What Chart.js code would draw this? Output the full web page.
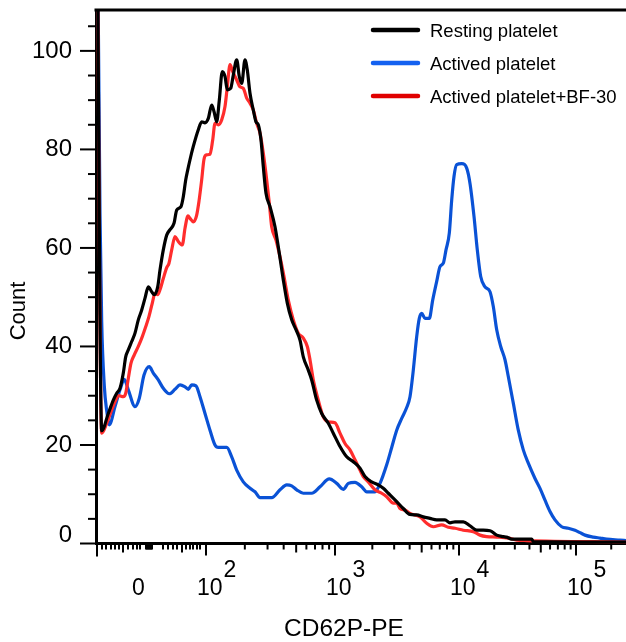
<!DOCTYPE html>
<html>
<head>
<meta charset="utf-8">
<title>CD62P-PE histogram</title>
<script src="https://cdn.jsdelivr.net/npm/chart.js@4.4.1/dist/chart.umd.min.js"></script>
<style>
  html, body { margin: 0; padding: 0; background: #fff; }
  #wrap { position: relative; width: 626px; height: 642px; }
</style>
</head>
<body>
<div id="wrap"><canvas id="chart"></canvas></div>
<script>
/* ─── Data (x = display channel on the biexponential axis, y = count) ───── */
const restingX = [0.5, 5.7, 12.3, 17.3, 20.7, 24, 27.3, 29.7, 32.3, 35.7, 39, 42.3, 45.7, 49, 52.3, 55.7,
  58.3, 61.7, 64, 67.3, 70.7, 74, 78, 80.7, 85, 87.3, 89.7, 91.7, 94, 97.3, 102.3, 105.7, 109, 112.3,
  115.7, 118, 120.7, 123.3, 126.3, 129, 131.3, 134.7, 137.3, 140.7, 143.3, 145.7, 149, 151.3, 154,
  157.3, 160, 162.3, 165, 167.3, 170, 174, 179, 183.3, 187.3, 191.3, 195.7, 200, 204, 207.3, 212.3,
  215.7, 220.7, 225.7, 232.3, 237.3, 244, 250.7, 257.3, 264, 269, 275.7, 282.3, 287.3, 292.3, 300.7,
  307.3, 314, 320.7, 327.3, 334, 340.7, 349, 354, 359, 367.3, 374, 380.7, 387.3, 394, 400.7, 407.3,
  410.7, 415.7, 435.7, 437.3, 530];
const restingY = [150, 22.9, 26.4, 29.1, 30.5, 31.5, 34.6, 37.9, 39.3, 41.0, 42.7, 45.4, 47.4, 49.8, 52.1, 51.1,
  50.5, 52.1, 55.5, 59.6, 62.6, 63.7, 65.0, 67.7, 68.4, 70.4, 73.8, 75.8, 77.9, 80.6, 84.0, 85.6, 85.4, 86.3,
  89.0, 87.7, 85.6, 90.0, 95.8, 94.8, 92.1, 92.4, 95.1, 98.2, 94.8, 93.4, 98.2, 96.1, 91.4,
  88.0, 85.6, 85.0, 81.9, 76.5, 71.1, 68.4, 64.3, 58.9, 53.5, 48.8, 45.4, 43.4, 41.3, 37.9, 35.2,
  33.2, 29.1, 26.4, 24.4, 22.4, 19.7, 17.6, 16.6, 15.3, 13.6, 12.5, 11.9, 11.2, 10.2, 8.5,
  7.1, 5.9, 5.8, 5.4, 5.1, 4.8, 4.8, 4.2, 4.4, 4.4, 3.6, 2.7, 2.7, 2.6, 1.7, 1.4,
  1.3, 0.9, 0.9, 0.4, 0.3];

const activedX = [0.5, 4, 5.7, 8.3, 10.7, 13.3, 19, 24, 28.3, 32.3, 39, 43.3, 48, 53.3, 57.3, 62.3, 67.3,
  73.3, 79, 84, 89, 92.3, 95.7, 100, 104, 109, 114, 119, 122.3, 130.7, 135.7, 140.7, 147.3, 154, 159,
  164, 175.7, 184, 190.7, 195.7, 200.7, 207.3, 215.7, 224, 233.3, 240.7, 247.3, 252.3, 259, 265.7,
  270.7, 279, 284, 290.7, 295.7, 300.7, 305.7, 310.7, 314, 317.3, 320.7, 323.3, 325.7, 329, 333.3,
  336.7, 340.7, 344, 347.3, 350, 353.3, 355.7, 358, 360.7, 365.7, 370.7, 374, 378, 381.3, 384.7, 389,
  394, 397.3, 400.7, 404.7, 409, 412.3, 417.3, 422.3, 427.3, 432.3, 439, 444, 449, 454, 459, 465.7,
  472.3, 479, 484, 489, 497.3, 504, 510.7, 524, 530];
const activedY = [150, 67, 45, 32, 27, 24.1, 27.8, 31.2, 33.3, 31.2, 27.8, 29.5, 34.2, 35.9, 34.6, 33.2, 31.5,
  30.4, 31.3, 32.2, 31.8, 31.3, 32.2, 32.0, 29.8, 26.4, 23.0, 20.0, 19.5, 19.5, 17.6, 14.9, 12.5, 11.2, 10.5,
  9.3, 9.3, 10.9, 11.9, 11.7, 10.9, 10.2, 10.2, 11.5, 13.1, 12.2, 11.0, 12.2, 12.4, 11.5,
  10.5, 10.5, 12.2, 16.0, 19.5, 23.0, 25.4, 27.6, 29.8, 35.2, 42.0, 45.7, 46.7, 45.7, 45.7,
  49.4, 53.2, 56.2, 56.9, 59.6, 63.0, 69.7, 74.5, 76.9, 77.1, 76.2, 73.1, 66.4, 59.6, 54.2, 52.1,
  51.1, 48.1, 43.4, 40.0, 37.3, 33.9, 28.5, 23.0, 19.0, 16.3, 13.2, 11.2, 8.8, 6.5, 4.8, 3.4,
  3.1, 2.7, 2.2, 1.7, 1.3, 1.1, 0.9, 0.7, 0.6];

const bf30X = [0.5, 5.7, 10.7, 15.7, 19.7, 23, 27.3, 29.7, 32.3, 35, 38.3, 42.3, 46.3, 49.7, 53, 56.3, 59,
  61.7, 64, 67.3, 70.7, 73, 75.7, 79, 82.3, 86.3, 89, 92, 94, 97.3, 100.5, 103, 105.5, 108, 110.5, 114,
  116.7, 119, 122.3, 125.7, 129, 131.3, 134, 136.7, 140.7, 144, 147.3, 150.7, 154, 157.3, 160.7, 164,
  167.3, 170.7, 173.3, 175.7, 180, 184, 188, 192.3, 197.3, 202.3, 207.3, 211.3, 214, 217.3, 222.3,
  227.3, 232.3, 239, 244, 249, 254, 259, 264, 267.3, 272.3, 279, 285.7, 290.7, 297.3, 300.7, 304, 309,
  314, 324, 330.7, 337.3, 345.7, 352.3, 359, 367.3, 377.3, 384, 390.7, 400.7, 412.3, 420.7, 430.7, 530];
const bf30Y = [150, 22.4, 24.4, 27.1, 29.1, 30.0, 29.8, 30.5, 33.5, 36.6, 38.3, 40.0, 42.0, 44.0, 46.1, 48.8, 50.8,
  50.5, 51.5, 53.8, 56.0, 56.9, 59.6, 62.3, 61.3, 60.6, 64.0, 66.5, 66.0, 65.3, 66.5, 69.5, 73.5, 78.0, 78.9, 79.0,
  81.9, 85.3, 85.0, 86.0, 88.7, 92.7, 97.2, 95.8, 94.1, 92.7, 92.4, 90.4, 89.4, 88.0, 85.3, 83.3,
  79.2, 73.8, 69.1, 64.3, 61.6, 58.2, 54.2, 49.4, 45.4, 42.7, 41.7, 40.0, 37.3, 33.2, 29.1,
  25.7, 24.7, 24.5, 22.4, 20.3, 19.0, 17.0, 14.9, 13.6, 12.5, 10.9, 10.2, 9.5, 8.2, 8.2, 7.1, 6.8,
  6.1, 5.4, 4.1, 3.4, 3.8, 3.3, 3.1, 2.7, 2.4, 1.7, 1.4, 1.3, 1.1, 0.7, 0.6, 0.3];

/* ─── Axis ticks ─────────────────────────────────────────────────────────── */
const xMax = 530;
const yMax = 108.3;
const yTickLabels = [0, 20, 40, 60, 80, 100];
// linear region round zero
const linTickPos = [1, 6, 10, 15, 19, 23, 27, 32, 37, 41, 44, 50, 51, 52, 53, 54, 55, 56,
  67, 72, 77, 81, 86, 90, 94, 97, 101, 104];
// channel positions of 10^2 .. 10^5
const decadePos = [110, 239, 363, 480];
const decadeExp = ['2', '3', '4', '5'];
const zeroLabelPos = 42.5;

const FONT = '"Liberation Sans", Arial, Helvetica, sans-serif';

function xTickList() {
  const list = linTickPos.map(v => [v, v === 1 ? 13 : (v === 27 || v === 86 ? 9 : 6)]);
  decadePos.forEach((p0, d) => {
    const next = decadePos[d + 1] ?? p0 + 117;
    const w = next - p0;
    list.push([p0, 12]);
    for (let k = 2; k <= 9; k++) {
      const v = p0 + w * Math.log10(k);
      if (v <= xMax) list.push([v, k === 5 ? 9 : 6]);
    }
  });
  return list;
}

/* ─── Plugin: ticks, labels, frame, legend ───────────────────────────────── */
const decor = {
  id: 'decor',
  afterDraw(chart) {
    const { ctx, chartArea: a, scales: { x, y } } = chart;
    ctx.save();
    ctx.strokeStyle = '#000';
    ctx.fillStyle = '#000';

    /* top frame */
    ctx.lineWidth = 3;
    ctx.beginPath();
    ctx.moveTo(a.left - 1.5, a.top);
    ctx.lineTo(a.right, a.top);
    ctx.stroke();

    /* y ticks */
    ctx.lineWidth = 2;
    for (let v = 0; v <= 105; v += 5) {
      const py = y.getPixelForValue(v);
      const len = v % 20 === 0 ? 16 : 8;
      ctx.beginPath();
      ctx.moveTo(a.left - len, py);
      ctx.lineTo(a.left, py);
      ctx.stroke();
    }

    /* x ticks */
    xTickList().forEach(([v, len]) => {
      const px = x.getPixelForValue(v);
      ctx.beginPath();
      ctx.moveTo(px, a.bottom);
      ctx.lineTo(px, a.bottom + len);
      ctx.stroke();
    });

    /* y labels */
    ctx.font = `24px ${FONT}`;
    ctx.textAlign = 'right';
    ctx.textBaseline = 'middle';
    yTickLabels.forEach(v => {
      const py = y.getPixelForValue(v) - (v === 0 ? 8 : 0);
      ctx.fillText(String(v), a.left - 24, py);
    });

    /* x labels */
    ctx.font = `23px ${FONT}`;
    ctx.textBaseline = 'alphabetic';
    ctx.textAlign = 'center';
    ctx.fillText('0', x.getPixelForValue(zeroLabelPos), 594.5);
    ctx.textAlign = 'left';
    decadePos.forEach((p, i) => {
      const px = x.getPixelForValue(p) - 9;
      ctx.fillText('10', px, 594.5);
      const w = ctx.measureText('10').width;
      ctx.fillText(decadeExp[i], px + w + 1, 577);
    });

    /* axis titles */
    ctx.font = `24.5px ${FONT}`;
    ctx.textAlign = 'center';
    ctx.fillText('CD62P-PE', 344, 635.5);
    ctx.save();
    ctx.translate(19, 311);
    ctx.rotate(-Math.PI / 2);
    ctx.font = `22px ${FONT}`;
    ctx.textBaseline = 'middle';
    ctx.fillText('Count', 0, 0);
    ctx.restore();

    /* legend */
    const rows = [
      ['Resting platelet', '#000000', 30],
      ['Actived platelet', '#1461f0', 63],
      ['Actived platelet+BF-30', '#e00000', 96]
    ];
    ctx.font = `18.5px ${FONT}`;
    ctx.textAlign = 'left';
    ctx.textBaseline = 'alphabetic';
    ctx.lineCap = 'round';
    rows.forEach(([label, color, ly]) => {
      ctx.strokeStyle = color;
      ctx.lineWidth = 4.5;
      ctx.beginPath();
      ctx.moveTo(373, ly);
      ctx.lineTo(418, ly);
      ctx.stroke();
      ctx.fillStyle = '#000';
      ctx.fillText(label, 430, ly + 6.5);
    });
    ctx.restore();
  }
};

/* ─── Chart ──────────────────────────────────────────────────────────────── */
const toPts = (xs, ys) => xs.map((v, i) => ({ x: v, y: ys[i] }));

new Chart(document.getElementById('chart'), {
  type: 'line',
  data: {
    datasets: [
      {
        label: 'Resting platelet',
        data: toPts(restingX, restingY),
        borderColor: '#000000',
        borderWidth: 3.2,
        order: 0
      },
      {
        label: 'Actived platelet',
        data: toPts(activedX, activedY),
        borderColor: '#0a52d6',
        borderWidth: 3.2,
        order: 2
      },
      {
        label: 'Actived platelet+BF-30',
        data: toPts(bf30X, bf30Y),
        borderColor: '#ff2d2d',
        borderWidth: 3.2,
        order: 1
      }
    ]
  },
  options: {
    responsive: true,
    maintainAspectRatio: false,
    animation: false,
    layout: { padding: { top: 10, left: 0, right: 0, bottom: 0 } },
    elements: {
      point: { radius: 0 },
      line: { cubicInterpolationMode: 'monotone', fill: false }
    },
    plugins: { legend: { display: false }, tooltip: { enabled: false } },
    scales: {
      x: {
        type: 'linear',
        min: 0,
        max: xMax,
        grid: { display: false },
        ticks: { display: false },
        border: { display: true, color: '#000', width: 3 },
        afterFit: s => { s.height = 98.5; }
      },
      y: {
        type: 'linear',
        min: 0,
        max: yMax,
        grid: { display: false },
        ticks: { display: false },
        border: { display: true, color: '#000', width: 3 },
        afterFit: s => { s.width = 96; }
      }
    }
  },
  plugins: [decor]
});
</script>
</body>
</html>
